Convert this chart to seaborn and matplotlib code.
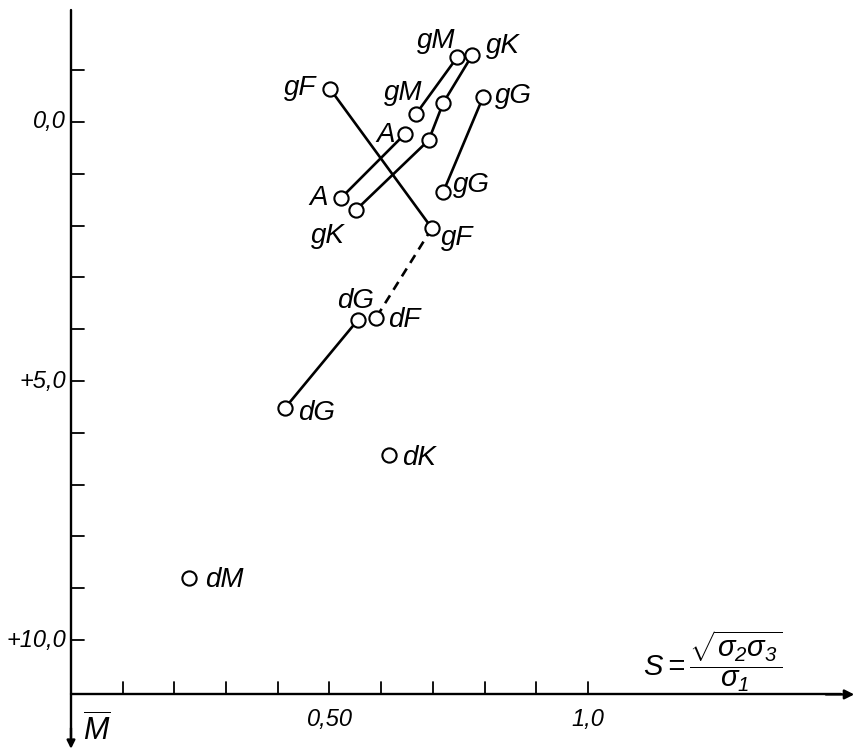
import matplotlib
matplotlib.use("Agg")
import matplotlib.pyplot as plt
import seaborn as sns
import pandas as pd

# Stellar groups: S = sqrt(sigma2*sigma3)/sigma1 against mean absolute magnitude
labels = ["gF", "gF", "A", "A", "gK", "", "", "gK", "gM", "gM",
          "gG", "gG", "dG", "dF", "dG", "dK", "dM"]
s_vals = [0.501, 0.698, 0.646, 0.522, 0.551, 0.692, 0.720, 0.776, 0.667, 0.747,
          0.797, 0.720, 0.555, 0.590, 0.414, 0.615, 0.228]
m_vals = [-0.64, 2.05, 0.23, 1.47, 1.70, 0.35, -0.37, -1.29, -0.15, -1.25,
          -0.48, 1.35, 3.82, 3.78, 5.52, 6.43, 8.80]

# point chains (indices into the arrays above)
solid_chains = [[0, 1], [3, 2], [4, 5, 6, 7], [8, 9], [10, 11], [12, 14]]
dashed_chains = [[1, 13]]

x_ticks = [0.1, 0.2, 0.3, 0.4, 0.5, 0.6, 0.7, 0.8, 0.9, 1.0]
x_ticklabels = {0.5: "0,50", 1.0: "1,0"}
y_ticks = [-1, 0, 1, 2, 3, 4, 5, 6, 7, 8, 9, 10]
y_ticklabels = {0: "0,0", 5: "+5,0", 10: "+10,0"}

df = pd.DataFrame({"S": s_vals, "M": m_vals, "label": labels})

sns.set_theme(style="white")
plt.rcParams["font.family"] = ["Liberation Sans", "DejaVu Sans"]
plt.rcParams["font.style"] = "italic"
plt.rcParams["text.color"] = "black"
plt.rcParams["mathtext.fontset"] = "custom"
plt.rcParams["mathtext.it"] = "Liberation Sans:italic"
plt.rcParams["mathtext.rm"] = "Liberation Sans:italic"

W, H = 855, 754
fig = plt.figure(figsize=(W / 100, H / 100), dpi=100)
ax = fig.add_axes([0, 0, 1, 1])
x0, x1 = -0.1373, 1.5164
y0, y1 = 12.2, -2.355
ax.set_xlim(x0, x1)
ax.set_ylim(y0, y1)
ax.axis("off")

px_x = (x1 - x0) / W     # data units per pixel
px_y = (y0 - y1) / H

lw = 1.9
# connecting lines
for chain in solid_chains:
    sub = df.iloc[chain]
    sns.lineplot(data=sub, x="S", y="M", sort=False, estimator=None,
                 color="black", lw=lw, ax=ax, zorder=2)
for chain in dashed_chains:
    sub = df.iloc[chain]
    sns.lineplot(data=sub, x="S", y="M", sort=False, estimator=None,
                 color="black", lw=lw, ax=ax, zorder=2, linestyle=(0, (3.5, 2.5)))

# open circles
sns.scatterplot(data=df, x="S", y="M", s=105, facecolor="white",
                edgecolor="black", linewidth=1.5, ax=ax, zorder=3)

# point labels: (dx px, dy px downward, alignment)
offsets = [(-14, 6, "right"), (9, 17, "left"), (-10, 8, "right"), (-13, 7, "right"),
           (-11, 33, "right"), (0, 0, "left"), (0, 0, "left"), (14, -2, "left"),
           (7, -14, "right"), (-2, -9, "right"), (12, 6, "left"), (10, 0, "left"),
           (-2, -12, "center"), (12, 9, "left"), (13, 12, "left"), (13, 10, "left"),
           (16, 9, "left")]
for (s, m, lab), (dx, dy, ha) in zip(zip(s_vals, m_vals, labels), offsets):
    if not lab:
        continue
    ax.annotate(lab, (s, m), xytext=(dx * 0.72, -dy * 0.72), textcoords="offset points",
                ha=ha, va="baseline", fontsize=20, style="italic", color="black",
                zorder=4)

# axes drawn as arrows
ax_lw = 1.7
x_axis_m = 11.05
ax.plot([0, 1.49], [x_axis_m, x_axis_m], color="black", lw=ax_lw, zorder=1)
ax.annotate("", xy=(1.515, x_axis_m), xytext=(1.46, x_axis_m),
            arrowprops=dict(arrowstyle="-|>", color="black", lw=ax_lw,
                            mutation_scale=14, shrinkA=0, shrinkB=0))
ax.plot([0, 0], [-2.16, 11.9], color="black", lw=ax_lw, zorder=1)
ax.annotate("", xy=(0, 12.1), xytext=(0, 11.7),
            arrowprops=dict(arrowstyle="-|>", color="black", lw=ax_lw,
                            mutation_scale=12, shrinkA=0, shrinkB=0))

# tick marks pointing inward
for t in x_ticks:
    ax.plot([t, t], [x_axis_m, x_axis_m - 12 * px_y], color="black", lw=1.3)
    if t in x_ticklabels:
        ax.text(t, x_axis_m + 32 * px_y, x_ticklabels[t], ha="center", va="baseline",
                fontsize=17, style="italic", color="black")
for t in y_ticks:
    ax.plot([0, 13 * px_x], [t, t], color="black", lw=1.3)
    if t in y_ticklabels:
        ax.text(-5 * px_x, t, y_ticklabels[t], ha="right", va="center",
                fontsize=17, style="italic", color="black")

# axis titles
ax.text(1.106, 11.05 - 33 * px_y,
        r"$S=\dfrac{\sqrt{\sigma_2\sigma_3}}{\sigma_1}$",
        ha="left", va="center", fontsize=21, color="black")
ax.text(12 * px_x, 11.05 + 36 * px_y, r"$\overline{M}$", ha="left", va="center",
        fontsize=22, color="black")

fig.savefig("out.png", dpi=100, facecolor="white")
